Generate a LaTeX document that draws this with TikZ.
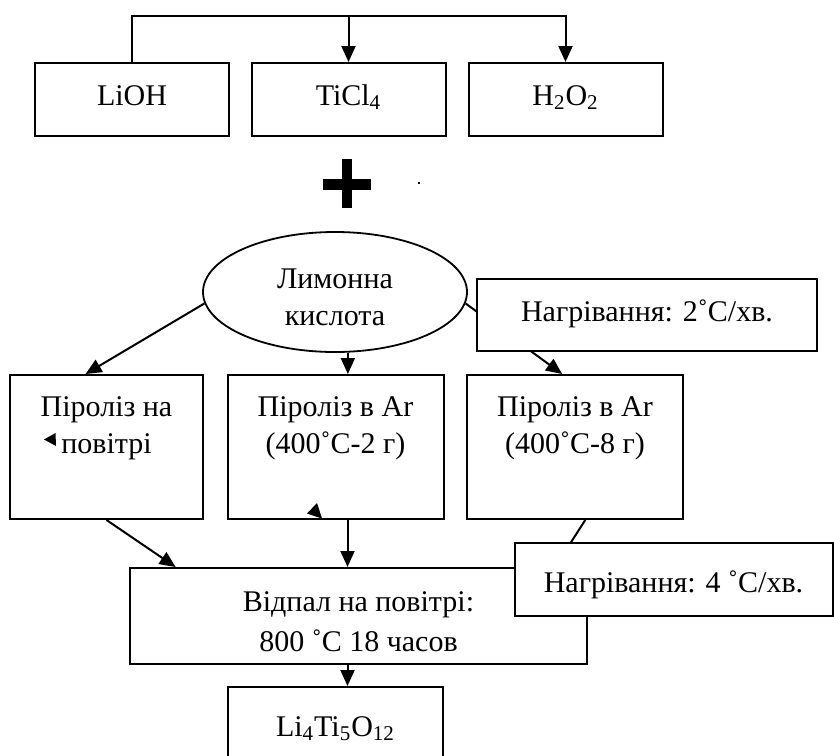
\documentclass[tikz,border=0pt]{standalone}
\usepackage{fontspec}
\setmainfont{Liberation Serif}
\usepackage{tikz}
\usetikzlibrary{arrows.meta,positioning,shapes.geometric}

\begin{document}
\begin{tikzpicture}[x=0.5pt,y=-0.5pt,
	every node/.style={font=\fontsize{15}{18.5}\selectfont},
	box/.style={draw,line width=1pt,fill=white,inner sep=0pt,align=center},
	line/.style={text height=10pt,text depth=4pt},
	lowline/.style={text height=16pt,text depth=3.5pt},
	txt/.style={inner sep=0pt,align=center},
	arr/.style={line width=1pt,-{Triangle[width=7pt,length=8pt]}}]
				\useasboundingbox (0,0) rectangle (834,755);
				\coordinate (top) at (0,15.7);
				\coordinate (axis) at (347.5,0);
				
				% reagents
				\foreach \n/\x/\t in
				{lioh/132/LiOH, ticl/348.5/TiCl\textsubscript{4}, hoo/565.5/H\textsubscript{2}O\textsubscript{2}}{
					\node[box,line,minimum width=97pt,minimum height=36.5pt] (\n) at (\x,99.5) {\t};
				}
				\draw[arr] (lioh.north) |- (hoo.north |- top) -- (hoo.north);
				\draw[arr] (ticl.north |- top) -- (ticl.north);
				
				% plus
				\fill (323,178.5) rectangle (371,189.5);
				\fill (342,159) rectangle (352,208);
				\fill (418,182) rectangle (420,184);
				
				\node[draw,ellipse,line width=0.9pt,minimum width=132pt,minimum height=60pt] (lemon) at (335,292) {};
				\node[txt,yshift=-2.5pt] (lemont) at (lemon) {Лимонна\\кислота};
				
				% pyrolysis
				\foreach \n/\x/\w in
				{pyrA/106.5/96.5, pyrB/335.5/108, pyrC/575/108}{
					\node[box,minimum width=\w pt,minimum height=72pt] (\n) at (\x,447) {};
				}
				\node[txt,below=11pt of pyrA.north] (pyrAt) {Піроліз на\\повітрі};
				\node[txt,below=11pt of pyrB.north] (pyrBt) {Піроліз в Ar\\(400˚C-2 г)};
				\node[txt,below=11pt of pyrC.north] (pyrCt) {Піроліз в Ar\\(400˚C-8 г)};
				
				\node[box,minimum width=228.5pt,minimum height=48pt] (otzhig) at (358.5,616) {};
				\node[txt,yshift=-3pt] (otzhigt) at (otzhig) {Відпал на повітрі:\\[1.5pt]800 ˚C 18 часов};
				\node[box,lowline,minimum width=107.5pt,minimum height=36.5pt] (li) at (335.5,723.5) {Li\textsubscript{4}Ti\textsubscript{5}O\textsubscript{12}};
				
				\foreach \a/\b in
				{lemon.185/pyrA.106, lemon.355/pyrC.100, pyrA.south/otzhig.165, pyrC.278/otzhig.14.5}{
					\draw[arr] (\a) -- (\b);
				}
				\draw[arr] (lemon.282) -- (lemon.282 |- pyrB.north);
				\draw[arr] (axis |- pyrB.south) -- (axis |- otzhig.north);
				\draw[arr] (axis |- otzhig.south) -- (axis |- li.north);
				
				% stray heads
				\fill (44,439.5) -- (55.5,433) -- (56,446) -- cycle; % pyrA
				\fill (317,503) -- (307,513.5) -- (322,518.5) -- cycle; % pyrB
				
				% heating, on top of the lines
				\node[box,line,minimum width=170pt,minimum height=36pt] (heatA) at (647,315) {Нагрівання: 2˚C/хв.};
				\node[box,lowline,minimum width=159pt,minimum height=36.5pt] (heatB) at (673.5,579.5) {Нагрівання: 4 ˚C/хв.};
			\end{tikzpicture}
\end{document}
